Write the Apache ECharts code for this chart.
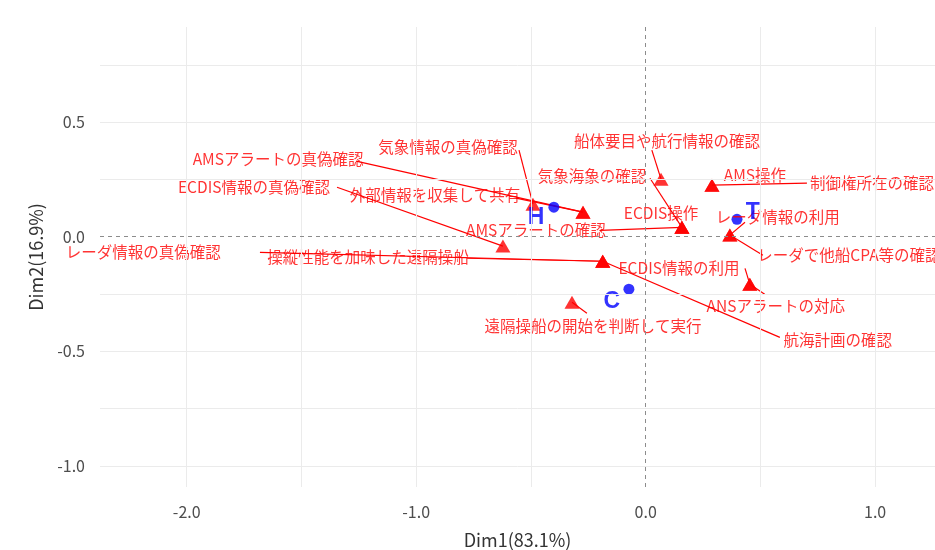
<!DOCTYPE html>
<html lang="ja">
<head>
    <meta charset="UTF-8">
    <title>CA biplot</title>
    <script src="https://cdn.jsdelivr.net/npm/echarts@6/dist/echarts.min.js"></script>
    <style type="text/css">
        html, body { margin: 0; height: 100%; background: #ffffff; }
        #main { width: 935px; height: 550px; }
    </style>
</head>
<body>
    <div id="main"></div>
    <script type="text/javascript">
        // 行ポイント（青）
        var rowNames = ['H', 'T', 'C'];
        var rowX = [-0.400, 0.398, -0.073];
        var rowY = [0.129, 0.076, -0.229];
        var rowLabelX = [-0.478, 0.467, -0.147];
        var rowLabelY = [0.081, 0.107, -0.282];

        // 列ポイント（赤三角）
        var colNames = [
            '気象情報の真偽確認', 'AMSアラートの真偽確認', '外部情報を収集して共有',
            '船体要目や航行情報の確認', '気象海象の確認', 'ECDIS操作', 'AMSアラートの確認',
            'AMS操作', '制御権所在の確認', 'レーダ情報の利用', 'レーダで他船CPA等の確認',
            'ECDIS情報の真偽確認', 'レーダ情報の真偽確認', '操縦性能を加味した遠隔操船',
            'ECDIS情報の利用', '航海計画の確認', 'ANSアラートの対応', '遠隔操船の開始を判断して実行'
        ];
        var colX = [-0.491, -0.273, -0.273, 0.067, 0.158, 0.158, 0.158, 0.289, 0.289,
                    0.367, 0.367, -0.622, -0.187, -0.187, 0.454, -0.187, 0.454, -0.321];
        var colY = [0.142, 0.107, 0.107, 0.251, 0.041, 0.041, 0.041, 0.225, 0.225,
                    0.007, 0.007, -0.041, -0.107, -0.107, -0.207, -0.107, -0.207, -0.286];
        // ラベル位置（repel 後）
        var colLabelX = [-0.861, -1.602, -0.918, 0.093, -0.234, 0.067, -0.478, 0.476, 0.986,
                         0.576, 0.886, -1.707, -2.190, -1.210, 0.145, 0.837, 0.567, -0.230];
        var colLabelY = [0.391, 0.338, 0.181, 0.417, 0.264, 0.103, 0.028, 0.269, 0.234,
                         0.085, -0.081, 0.216, -0.068, -0.090, -0.138, -0.452, -0.303, -0.391];
        // 引き出し線の始点（null は線なし）
        var segX = [-0.552, -1.262, -0.565, 0.027, 0.019, null, -0.199, null, 0.703,
                    0.433, 0.511, -1.345, -1.681, -0.778, 0.433, 0.585, 0.519, -0.256];
        var segY = [0.378, 0.330, 0.168, 0.378, 0.255, null, 0.028, null, 0.234,
                    0.063, -0.081, 0.216, -0.068, -0.094, -0.138, -0.439, -0.251, -0.334];

        // 軸
        var xTicks = [-2, -1, 0, 1];
        var yTicks = [-1, -0.5, 0, 0.5];
        var xGrid = [-2, -1.5, -1, -0.5, 0.5, 1];
        var yGrid = [-1, -0.75, -0.5, -0.25, 0.25, 0.5, 0.75];

        var chart = echarts.init(document.getElementById('main'));

        var red = '#ff0000';
        var blue = '#0000ff';
        var jp = '"Noto Sans CJK JP", "Noto Sans", sans-serif';

        var segData = [];
        for (var i = 0; i < colNames.length; i++) {
            if (segX[i] !== null) {
                segData.push({ coords: [[segX[i], segY[i]], [colX[i], colY[i]]] });
            }
        }

        var gridLines = [];
        xGrid.forEach(function (v) { gridLines.push({ xAxis: v }); });
        yGrid.forEach(function (v) { gridLines.push({ yAxis: v }); });

        var option = {
            animation: false,
            backgroundColor: '#ffffff',
            grid: { left: 100, right: 0, top: 27, bottom: 63, outerBoundsMode: 'none', containLabel: false },
            xAxis: {
                type: 'value',
                min: -2.378, max: 1.261,
                name: 'Dim1(83.1%)',
                nameLocation: 'middle',
                nameGap: 44,
                nameTextStyle: { fontSize: 18, color: '#333', fontFamily: jp },
                axisLine: { show: false },
                axisTick: { show: false },
                splitLine: { show: false },
                axisLabel: {
                    customValues: xTicks,
                    margin: 17,
                    fontSize: 16, color: '#4d4d4d', fontFamily: jp,
                    formatter: function (v) { return v.toFixed(1); }
                }
            },
            yAxis: {
                type: 'value',
                min: -1.092, max: 0.915,
                name: 'Dim2(16.9%)',
                nameLocation: 'middle',
                nameGap: 55,
                nameTextStyle: { fontSize: 18, color: '#333', fontFamily: jp },
                axisLine: { show: false },
                axisTick: { show: false },
                splitLine: { show: false },
                axisLabel: {
                    customValues: yTicks,
                    margin: 15,
                    fontSize: 16, color: '#4d4d4d', fontFamily: jp,
                    formatter: function (v) { return v.toFixed(1); }
                }
            },
            series: [
                {
                    // 目盛線と原点線
                    type: 'scatter', data: [], silent: true,
                    markLine: {
                        silent: true, symbol: 'none', animation: false,
                        label: { show: false },
                        lineStyle: { color: '#ebebeb', width: 1, type: 'solid' },
                        data: gridLines
                    }
                },
                {
                    type: 'scatter', data: [], silent: true,
                    markLine: {
                        silent: true, symbol: 'none', animation: false,
                        label: { show: false },
                        lineStyle: { color: '#8c8c8c', width: 1, type: [4, 4] },
                        data: [{ xAxis: 0 }, { yAxis: 0 }]
                    }
                },
                {
                    type: 'lines',
                    coordinateSystem: 'cartesian2d',
                    silent: true,
                    lineStyle: { color: red, width: 1.2, opacity: 1 },
                    data: segData
                },
                {
                    type: 'scatter',
                    symbol: 'triangle',
                    symbolSize: [15, 13],
                    itemStyle: { color: red },
                    data: colX.map(function (x, i) { return [x, colY[i]]; })
                },
                {
                    type: 'scatter',
                    symbol: 'circle',
                    symbolSize: 11,
                    itemStyle: { color: blue },
                    data: rowX.map(function (x, i) { return [x, rowY[i]]; })
                },
                {
                    type: 'scatter',
                    symbolSize: 1,
                    itemStyle: { color: 'rgba(0,0,0,0)' },
                    label: {
                        show: true, position: 'inside',
                        fontSize: 15.5, color: red, fontFamily: jp,
                        formatter: function (p) { return colNames[p.dataIndex]; }
                    },
                    data: colLabelX.map(function (x, i) { return [x, colLabelY[i]]; })
                },
                {
                    type: 'scatter',
                    symbolSize: 1,
                    itemStyle: { color: 'rgba(0,0,0,0)' },
                    label: {
                        show: true, position: 'inside',
                        fontSize: 23, fontWeight: 'bold', color: blue,
                        fontFamily: '"Liberation Sans", Arial, sans-serif',
                        formatter: function (p) { return rowNames[p.dataIndex]; }
                    },
                    data: rowLabelX.map(function (x, i) { return [x, rowLabelY[i]]; })
                }
            ]
        };
        chart.setOption(option);
    </script>
</body>
</html>
